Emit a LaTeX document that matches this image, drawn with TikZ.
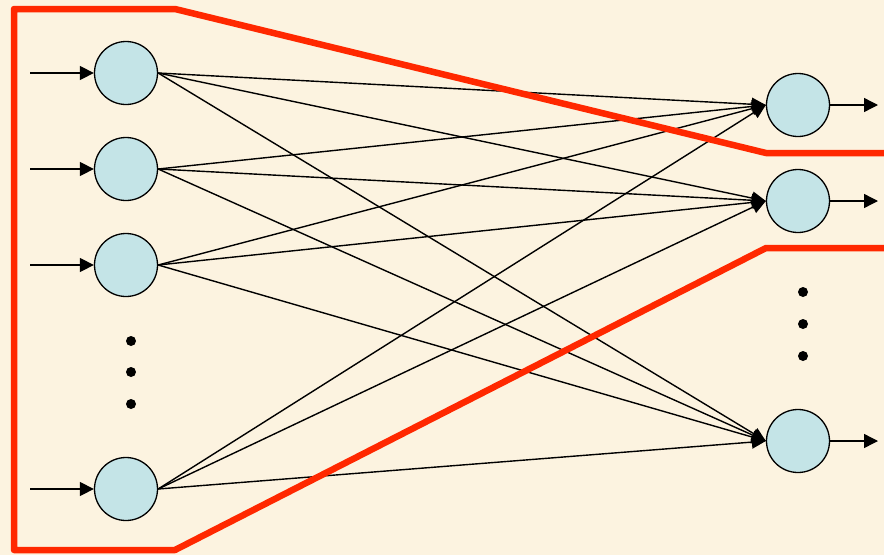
\documentclass[tikz,border=0pt]{standalone}
\usepackage{xcolor}
\definecolor{nnPaper}{RGB}{252,243,224}
\definecolor{nnCell}{RGB}{196,228,231}
\definecolor{nnRed}{RGB}{255,40,0}
\usepackage{tikz}
\usetikzlibrary{arrows.meta}

\begin{document}
\begin{tikzpicture}[x=1pt,y=-1pt,
  neuron/.style={circle,draw=black,fill=nnCell,line width=1.3pt,minimum size=63pt,inner sep=0pt},
  dot/.style={circle,fill=black,minimum size=10pt,inner sep=0pt},
  a/.style={-{Triangle[length=14pt,width=14pt]},black,line width=1.4pt},
  w/.style={-{Triangle[length=14pt,width=13pt]},black,line width=1.4pt},
  frame/.style={draw=nnRed,line width=6.5pt,line join=round}]
  \fill[nnPaper] (0,0) rectangle (884,555);
  \useasboundingbox (0,0) rectangle (884,555);
  % input layer
  \foreach \i/\y in {1/73,2/169,3/265,4/489} {
    \node[neuron] (in\i) at (126,\y) {};
    \coordinate (s\i) at (30,\y);
    \draw[a] (s\i) -- (in\i);
  }
  % output layer
  \foreach \o/\y in {1/105,2/201,3/441} {
    \node[neuron] (out\o) at (798,\y) {};
    \coordinate (t\o) at (878,\y);
    \draw[a] (out\o) -- (t\o);
  }
  \foreach \k/\y in {1/341,2/372,3/404} \node[dot] (ldot\k) at (131,\y) {};
  \foreach \k/\y in {1/292,2/324,3/356} \node[dot] (rdot\k) at (803,\y) {};
  % weights
  \foreach \i in {1,...,4}
    \foreach \o in {1,2,3}
      \draw[w] (in\i.east) -- (out\o.west);
  % outline
  \draw[frame] (884,153) -- (766,153) -- (175,9) -- (14,9) -- (14,550)
    -- (175,550) -- (766,248) -- (884,248);
\end{tikzpicture}
\end{document}
